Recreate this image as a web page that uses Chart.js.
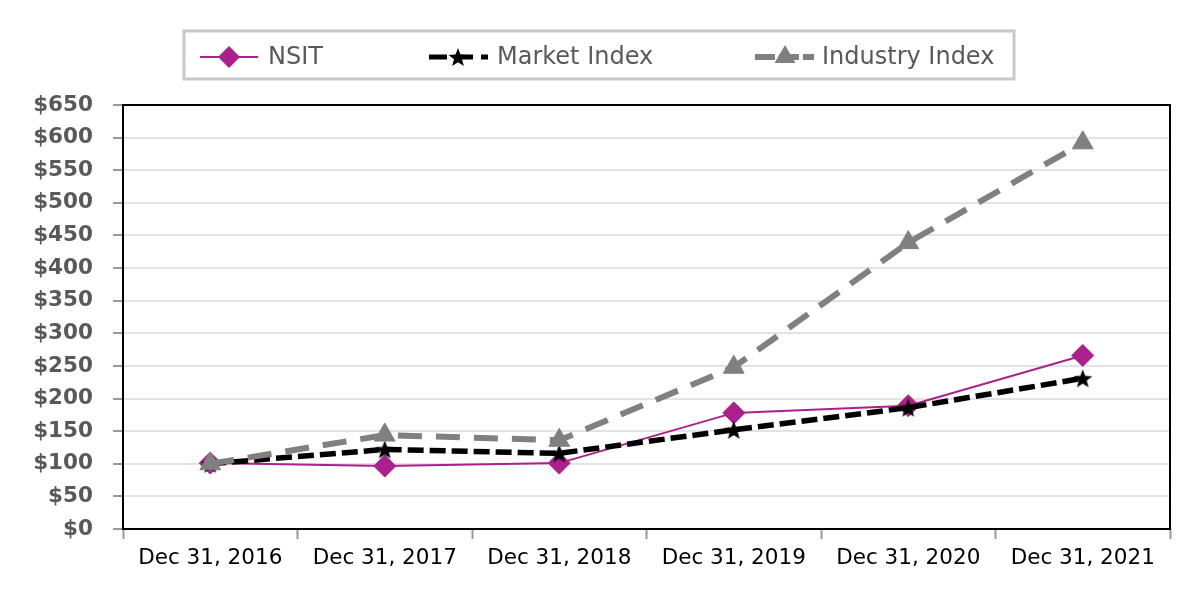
<!DOCTYPE html>
<html>
<head>
<meta charset="utf-8">
<script src="https://cdn.jsdelivr.net/npm/chart.js@4"></script>
<style>
  html, body { margin: 0; padding: 0; background: #fff; }
  #wrap { width: 1200px; height: 600px; }
</style>
</head>
<body>
<div id="wrap"><canvas id="myChart" width="1200" height="600"></canvas></div>
<script>
let labels = ["Dec 31, 2016", "Dec 31, 2017", "Dec 31, 2018", "Dec 31, 2019", "Dec 31, 2020", "Dec 31, 2021"];
let nsit = [101, 96.6, 101, 178, 189, 266];
let market = [100, 122, 116, 152, 186, 231];
let industry = [100, 144, 136, 248, 439, 592];

const PURPLE = "#ad1f8c";
const GREY = "#808080";

// filled five point star, Chart.js "star" is only lines
function makeStar(size, color) {
  let c = document.createElement("canvas");
  c.width = size;
  c.height = size;
  let g = c.getContext("2d");
  let cx = size / 2, cy = size / 2 + 1;
  let outer = size / 2 - 1, inner = outer * 0.42;
  g.beginPath();
  for (let i = 0; i < 10; i++) {
    let r = i % 2 === 0 ? outer : inner;
    let a = -Math.PI / 2 + i * Math.PI / 5;
    g.lineTo(cx + r * Math.cos(a), cy + r * Math.sin(a));
  }
  g.closePath();
  g.fillStyle = color;
  g.fill();
  return c;
}
let starImg = makeStar(22, "#000");

Chart.defaults.font.family = "'DejaVu Sans', Verdana, sans-serif";

const frame = {
  id: "frame",
  beforeDatasetsDraw(chart) {
    let a = chart.chartArea, ctx = chart.ctx;
    ctx.save();
    ctx.strokeStyle = "#000";
    ctx.lineWidth = 2;
    ctx.strokeRect(a.left, a.top, a.right - a.left, a.bottom - a.top);
    ctx.restore();
  },
};

const legendBox = {
  id: "legendBox",
  afterDraw(chart) {
    let ctx = chart.ctx;
    ctx.save();
    ctx.fillStyle = "#fff";
    ctx.fillRect(184, 31, 830, 48);
    ctx.strokeStyle = "#c8c8c8";
    ctx.lineWidth = 3;
    ctx.strokeRect(184, 31, 830, 48);

    let y = 57;
    ctx.font = "24px 'DejaVu Sans', Verdana, sans-serif";
    ctx.fillStyle = "#595959";
    ctx.textBaseline = "middle";

    // NSIT
    ctx.strokeStyle = PURPLE;
    ctx.lineWidth = 2;
    ctx.beginPath(); ctx.moveTo(200, y); ctx.lineTo(258, y); ctx.stroke();
    ctx.fillStyle = PURPLE;
    ctx.beginPath();
    ctx.moveTo(218, y); ctx.lineTo(229, y - 11); ctx.lineTo(240, y); ctx.lineTo(229, y + 11);
    ctx.closePath(); ctx.fill();
    ctx.fillStyle = "#595959";
    ctx.fillText(chart.data.datasets[0].label, 268, y + 1);

    // Market Index
    ctx.strokeStyle = "#000";
    ctx.lineWidth = 5;
    ctx.setLineDash([18, 8]);
    ctx.beginPath(); ctx.moveTo(429, y); ctx.lineTo(488, y); ctx.stroke();
    ctx.setLineDash([]);
    ctx.drawImage(starImg, 458 - 11, y - 11);
    ctx.fillText(chart.data.datasets[1].label, 497, y + 1);

    // Industry Index
    ctx.strokeStyle = GREY;
    ctx.lineWidth = 6;
    ctx.setLineDash([20, 4]);
    ctx.beginPath(); ctx.moveTo(755, y); ctx.lineTo(814, y); ctx.stroke();
    ctx.setLineDash([]);
    ctx.fillStyle = GREY;
    ctx.beginPath();
    ctx.moveTo(785, y - 12); ctx.lineTo(795.5, y + 6); ctx.lineTo(774.5, y + 6);
    ctx.closePath(); ctx.fill();
    ctx.fillStyle = "#595959";
    ctx.fillText(chart.data.datasets[2].label, 822, y + 1);
    ctx.restore();
  },
};

var ctx = document.getElementById("myChart");
var lineChart = new Chart(ctx, {
  type: "line",
  data: {
    labels: labels,
    datasets: [
      {
        label: "NSIT",
        data: nsit,
        borderColor: PURPLE,
        backgroundColor: PURPLE,
        borderWidth: 2,
        pointStyle: "rectRot",
        pointRadius: 11,
        pointBorderWidth: 1,
        pointBorderColor: PURPLE,
        pointBackgroundColor: PURPLE,
        order: 3,
      },
      {
        label: "Market Index",
        data: market,
        borderColor: "#000",
        backgroundColor: "#000",
        borderWidth: 5.5,
        borderDash: [16, 6],
        pointStyle: starImg,
        pointRadius: 11,
        order: 2,
      },
      {
        label: "Industry Index",
        data: industry,
        borderColor: GREY,
        backgroundColor: GREY,
        borderWidth: 6,
        borderDash: [24, 14],
        pointStyle: "triangle",
        pointRadius: 12,
        pointBorderWidth: 1,
        pointBorderColor: GREY,
        pointBackgroundColor: GREY,
        order: 1,
      },
    ],
  },
  options: {
    responsive: false,
    animation: false,
    layout: {
      padding: { left: 0, right: 30, top: 105, bottom: 0 },
    },
    plugins: {
      legend: { display: false },
      tooltip: { enabled: false },
    },
    scales: {
      x: {
        offset: true,
        border: { display: false },
        grid: {
          offset: true,
          drawOnChartArea: false,
          drawTicks: true,
          tickLength: 10,
          tickColor: "#9a9a9a",
          tickWidth: 2,
        },
        ticks: {
          color: "#000",
          font: { size: 21.5 },
          padding: 7,
          maxRotation: 0,
          autoSkip: false,
        },
        afterFit(scale) {
          scale.height = 71;
        },
      },
      y: {
        min: 0,
        max: 650,
        border: { display: false },
        grid: {
          color: "#e3e3e3",
          lineWidth: 2,
          tickLength: 10,
          tickColor: "#9a9a9a",
          tickWidth: 2,
        },
        ticks: {
          stepSize: 50,
          color: "#595959",
          font: { size: 21.5, weight: "bold" },
          padding: 20,
          callback: (v) => "$" + v,
        },
        afterFit(scale) {
          scale.width = 123;
        },
      },
    },
  },
  plugins: [frame, legendBox],
});
</script>
</body>
</html>
